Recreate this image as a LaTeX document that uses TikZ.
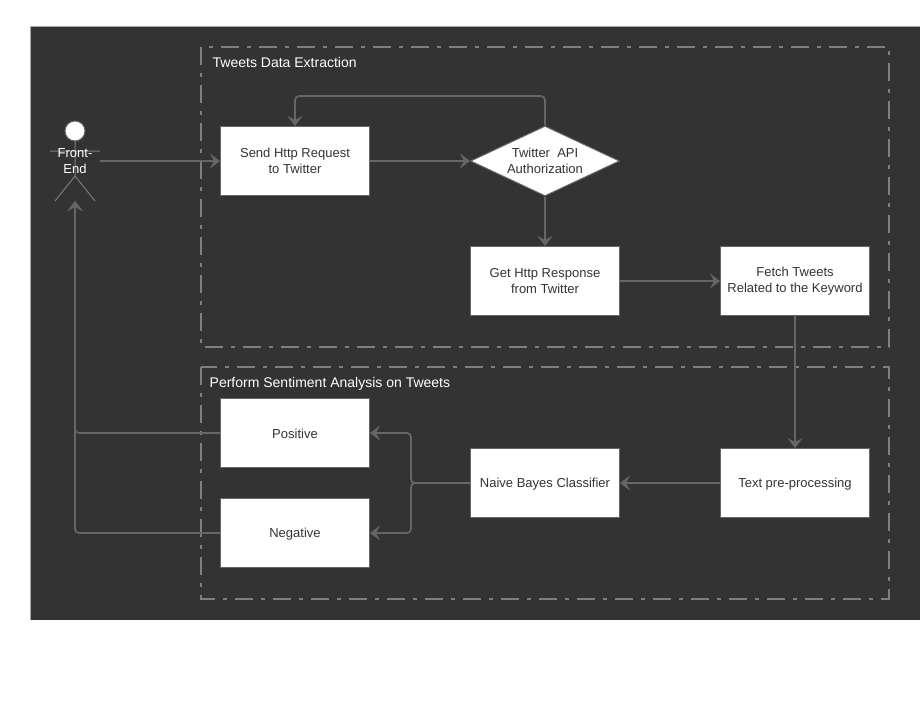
\documentclass[tikz,border=0pt]{standalone}
\usepackage{fontspec}
\setmainfont{Liberation Sans}
\usetikzlibrary{arrows.meta,shapes.geometric}
\definecolor{bgdark}{HTML}{333333}
\definecolor{linegray}{HTML}{666666}
\definecolor{dashgray}{HTML}{808080}
\definecolor{txtdark}{HTML}{333333}
\newcommand{\lownudge}{\rule{0pt}{11.6pt}}
\newcommand{\lownudgetwo}{\rule{0pt}{12.6pt}}
\tikzset{
  procbox/.style={draw=linegray,line width=1pt,fill=white,minimum width=149pt,minimum height=69pt,inner sep=0pt,align=center,text=txtdark,font=\fontsize{13}{16}\selectfont,execute at begin node=\lownudge},
  twoline/.style={execute at begin node=\lownudgetwo},
  decbox/.style={draw=linegray,line width=1pt,fill=white,diamond,aspect=2.14,minimum width=149pt,minimum height=70pt,inner sep=0pt,align=center,text=txtdark,font=\fontsize{13}{16}\selectfont,execute at begin node=\lownudgetwo},
  region/.style={draw=dashgray,line width=1.5pt,dash pattern=on 18pt off 8pt on 4pt off 8pt},
  flow/.style={draw=linegray,line width=1.7pt,rounded corners=4pt,-{Stealth[length=10pt,width=15pt,inset=4pt]}},
  title/.style={text=white,anchor=west,inner sep=0pt,font=\fontsize{14}{16}\selectfont},
  actorline/.style={draw=linegray!85!white,line width=1pt},
  actorlabel/.style={text=white,align=center,inner sep=0pt,font=\fontsize{13}{16}\selectfont}
}
\begin{document}
\begin{tikzpicture}[x=1pt,y=-1pt]
\useasboundingbox (0,0) rectangle (920,724);
\fill[bgdark] (30,26) rectangle (920,620);
\draw[draw=gray!70,line width=.8pt] (30,620) -- (30,26) -- (920,26);
\draw[region] (201,47) rectangle (889,347);
\draw[region] (201,367) rectangle (889,599);
\node[title] (t1) at (212.5,62) {Tweets Data Extraction};
\node[title] (t2) at (209.5,384) {Perform Sentiment Analysis on Tweets};
% actor
\coordinate (actorfoot) at (75,201);
\coordinate (actorright) at (100,161);
\coordinate (hip) at (75,176);
\draw[actorline] (75,141) -- (hip) (50,151) -- (100,151) (55,201) -- (hip) -- (95,201);
\node[draw=linegray,fill=white,circle,minimum size=20pt,inner sep=0pt,line width=1pt] (head) at (75,131) {};
\node[actorlabel] (actor) at (75,161) {Front-\\End};
% boxes
\node[procbox,twoline] (send) at (295,161) {Send Http Request\\to Twitter};
\node[decbox] (auth) at (545,161) {Twitter\ \ API\\Authorization};
\node[procbox,twoline] (resp) at (545,281) {Get Http Response\\from Twitter};
\node[procbox,twoline] (fetch) at (795,281) {Fetch Tweets\\Related to the Keyword};
\node[procbox] (pre) at (795,483) {Text pre-processing};
\node[procbox] (nb) at (545,483) {Naive Bayes Classifier};
\node[procbox] (pos) at (295,433) {Positive};
\node[procbox] (neg) at (295,533) {Negative};
% connectors
\draw[flow] (actorright) -- (send.west);
\draw[flow] (send.east) -- (auth.west);
\draw[flow] (auth.north) |- (295,96) -- (send.north);
\draw[flow] (auth.south) -- (resp.north);
\draw[flow] (resp.east) -- (fetch.west);
\draw[flow] (fetch.south) -- (pre.north);
\draw[flow] (pre.west) -- (nb.east);
\draw[flow] (nb.west) -- (411,483) -- (411,433) -- (pos.east);
\draw[flow] (nb.west) -- (411,483) -- (411,533) -- (neg.east);
\draw[flow] (pos.west) -- (75,433) -- (actorfoot);
\draw[flow] (neg.west) -- (75,533) -- (actorfoot);
\end{tikzpicture}
\end{document}
